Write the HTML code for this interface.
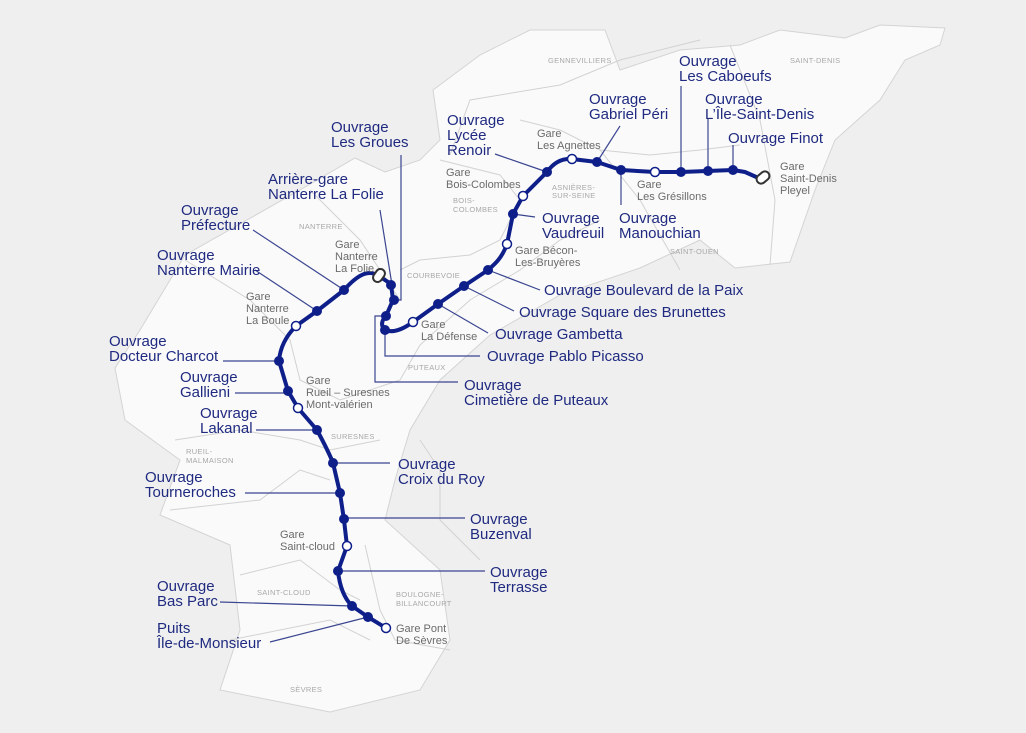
<!DOCTYPE html>
<html><head><meta charset="utf-8"><style>
html,body{margin:0;padding:0;background:#efefef;}
svg{display:block;}
.lb{font-family:"Liberation Sans",sans-serif;font-size:15px;fill:#1f2a80;}
.g{font-family:"Liberation Sans",sans-serif;font-size:11px;fill:#6b6b6b;}
.c{font-family:"Liberation Sans",sans-serif;font-size:7.5px;fill:#a8a8a8;letter-spacing:0.3px;}
.ld{stroke:#3a4590;stroke-width:1.2;fill:none;}
.b{stroke:#d2d2d2;stroke-width:1;fill:none;}
</style></head><body>
<svg width="1026" height="733" viewBox="0 0 1026 733" xmlns="http://www.w3.org/2000/svg">
<rect width="1026" height="733" fill="#efefef"/>
<polygon fill="#fafafa" stroke="#d4d4d4" stroke-width="1" points="433,90 480,55 530,30 605,30 620,70 680,50 740,45 780,30 845,38 880,25 945,28 940,45 905,60 880,100 835,140 815,190 790,262 735,268 700,240 640,268 560,295 490,335 440,380 410,430 395,480 385,520 440,570 450,640 420,690 330,712 220,690 240,630 230,545 160,515 180,460 125,420 115,368 140,330 185,255 300,190 355,158 385,172 420,160 440,140"/>
<polyline class="b" points="450,155 470,100 560,85 620,60 700,40"/>
<polyline class="b" points="520,120 560,130 600,150 640,200 680,270"/>
<polyline class="b" points="730,45 760,120 775,200 770,265"/>
<polyline class="b" points="600,150 650,155 700,150 740,145"/>
<polyline class="b" points="440,160 500,175 520,200 500,240 470,255 420,260 400,270"/>
<polyline class="b" points="420,345 470,300 520,270 560,240 600,220"/>
<polyline class="b" points="310,190 360,240 400,300"/>
<polyline class="b" points="185,260 250,300 290,340 300,380 340,400 400,380 420,345"/>
<polyline class="b" points="175,440 240,430 300,440 330,450 380,440"/>
<polyline class="b" points="170,510 260,500 300,470 330,480"/>
<polyline class="b" points="240,575 300,560 340,590 360,600"/>
<polyline class="b" points="365,545 380,610 395,640 450,650"/>
<polyline class="b" points="230,640 280,630 330,620 370,640"/>
<polyline class="b" points="480,560 440,520 440,470 420,440"/>
<text class="c" x="548" y="63">GENNEVILLIERS</text>
<text class="c" x="790" y="63">SAINT-DENIS</text>
<text class="c" x="670" y="254">SAINT-OUEN</text>
<text class="c" x="552" y="190">ASNIÈRES-</text>
<text class="c" x="552" y="198">SUR-SEINE</text>
<text class="c" x="453" y="203">BOIS-</text>
<text class="c" x="453" y="212">COLOMBES</text>
<text class="c" x="299" y="229">NANTERRE</text>
<text class="c" x="407" y="278">COURBEVOIE</text>
<text class="c" x="408" y="370">PUTEAUX</text>
<text class="c" x="331" y="439">SURESNES</text>
<text class="c" x="186" y="454">RUEIL-</text>
<text class="c" x="186" y="463">MALMAISON</text>
<text class="c" x="257" y="595">SAINT-CLOUD</text>
<text class="c" x="396" y="597">BOULOGNE-</text>
<text class="c" x="396" y="606">BILLANCOURT</text>
<text class="c" x="290" y="692">SÈVRES</text>
<g class="ld">
<line x1="681" y1="86" x2="681" y2="172"/>
<line x1="708" y1="118" x2="708" y2="171"/>
<line x1="733" y1="145" x2="733" y2="170"/>
<line x1="620" y1="126" x2="597" y2="162"/>
<line x1="621" y1="170" x2="621" y2="205"/>
<line x1="495" y1="154" x2="547" y2="172"/>
<line x1="513" y1="214" x2="535" y2="217"/>
<line x1="488" y1="270" x2="540" y2="290"/>
<line x1="464" y1="286" x2="514" y2="311"/>
<line x1="438" y1="304" x2="488" y2="333"/>
<polyline points="385,330 385,356 480,356"/>
<polyline points="386,316 375,316 375,382 458,382"/>
<polyline points="401,155 401,300 394,300"/>
<line x1="380" y1="210" x2="392" y2="285"/>
<line x1="253" y1="230" x2="344" y2="290"/>
<line x1="255" y1="270" x2="317" y2="311"/>
<line x1="223" y1="361" x2="279" y2="361"/>
<line x1="235" y1="393" x2="288" y2="393"/>
<line x1="256" y1="430" x2="317" y2="430"/>
<line x1="333" y1="463" x2="390" y2="463"/>
<line x1="245" y1="493" x2="340" y2="493"/>
<line x1="344" y1="518" x2="465" y2="518"/>
<line x1="338" y1="571" x2="485" y2="571"/>
<line x1="220" y1="602" x2="352" y2="606"/>
<line x1="270" y1="642" x2="368" y2="617"/>
</g>
<path d="M763,180 L745,172 L733,170 L681,172 L655,172 L621,170 L597,162 L572,159 C560,158 552,165 547,172 L523,196 L513,214 L507,244 C502,258 495,264 488,270 L464,286 L438,304 L413,322 C402,330 392,333 385,330 C380,325 382,320 386,316 L393,300 L391,284 L379,276 C370,270 360,272 344,290 L317,311 L296,326 C286,336 280,348 279,361 L288,391 L298,408 L317,430 C325,445 330,455 333,463 L340,493 L344,520 L347,546 L338,571 C340,590 346,600 352,606 L368,617 L386,628" fill="none" stroke="#0e1f8a" stroke-width="4" stroke-linejoin="round" stroke-linecap="round"/>
<g fill="#0e1f8a">
<circle cx="733" cy="170" r="5"/><circle cx="708" cy="171" r="5"/><circle cx="681" cy="172" r="5"/>
<circle cx="621" cy="170" r="5"/><circle cx="597" cy="162" r="5"/><circle cx="547" cy="172" r="5"/>
<circle cx="513" cy="214" r="5"/><circle cx="488" cy="270" r="5"/><circle cx="464" cy="286" r="5"/>
<circle cx="438" cy="304" r="5"/><circle cx="385" cy="330" r="5"/><circle cx="386" cy="316" r="5"/>
<circle cx="394" cy="300" r="5"/><circle cx="391" cy="285" r="5"/><circle cx="344" cy="290" r="5"/>
<circle cx="317" cy="311" r="5"/><circle cx="279" cy="361" r="5"/><circle cx="288" cy="391" r="5"/>
<circle cx="317" cy="430" r="5"/><circle cx="333" cy="463" r="5"/><circle cx="340" cy="493" r="5"/>
<circle cx="344" cy="519" r="5"/><circle cx="338" cy="571" r="5"/><circle cx="352" cy="606" r="5"/>
<circle cx="368" cy="617" r="5"/>
</g>
<g fill="#fff" stroke="#0e1f8a" stroke-width="1.5">
<circle cx="655" cy="172" r="4.5"/><circle cx="572" cy="159" r="4.5"/><circle cx="523" cy="196" r="4.5"/>
<circle cx="507" cy="244" r="4.5"/><circle cx="413" cy="322" r="4.5"/><circle cx="296" cy="326" r="4.5"/>
<circle cx="298" cy="408" r="4.5"/><circle cx="347" cy="546" r="4.5"/><circle cx="386" cy="628" r="4.5"/>
</g>
<g fill="#fff" stroke="#333" stroke-width="2">
<rect x="756" y="173" width="14" height="9" rx="4.5" transform="rotate(-40 763 177.5)"/>
<rect x="372" y="271" width="14" height="9" rx="4.5" transform="rotate(-55 379 275.5)"/>
</g>
<g class="g">
<text x="780" y="170">Gare</text><text x="780" y="182">Saint-Denis</text><text x="780" y="194">Pleyel</text>
<text x="637" y="188">Gare</text><text x="637" y="200">Les Grésillons</text>
<text x="537" y="137">Gare</text><text x="537" y="149">Les Agnettes</text>
<text x="446" y="176">Gare</text><text x="446" y="188">Bois-Colombes</text>
<text x="515" y="254">Gare Bécon-</text><text x="515" y="266">Les-Bruyères</text>
<text x="421" y="328">Gare</text><text x="421" y="340">La Défense</text>
<text x="335" y="248">Gare</text><text x="335" y="260">Nanterre</text><text x="335" y="272">La Folie</text>
<text x="246" y="300">Gare</text><text x="246" y="312">Nanterre</text><text x="246" y="324">La Boule</text>
<text x="306" y="384">Gare</text><text x="306" y="396">Rueil – Suresnes</text><text x="306" y="408">Mont-valérien</text>
<text x="280" y="538">Gare</text><text x="280" y="550">Saint-cloud</text>
<text x="396" y="632">Gare Pont</text><text x="396" y="644">De Sèvres</text>
</g>
<g class="lb">
<text x="679" y="66">Ouvrage</text><text x="679" y="81">Les Caboeufs</text>
<text x="705" y="104">Ouvrage</text><text x="705" y="119">L’Île-Saint-Denis</text>
<text x="728" y="143">Ouvrage Finot</text>
<text x="589" y="104">Ouvrage</text><text x="589" y="119">Gabriel Péri</text>
<text x="619" y="223">Ouvrage</text><text x="619" y="238">Manouchian</text>
<text x="447" y="125">Ouvrage</text><text x="447" y="140">Lycée</text><text x="447" y="155">Renoir</text>
<text x="542" y="223">Ouvrage</text><text x="542" y="238">Vaudreuil</text>
<text x="544" y="295">Ouvrage Boulevard de la Paix</text>
<text x="519" y="317">Ouvrage Square des Brunettes</text>
<text x="495" y="339">Ouvrage Gambetta</text>
<text x="487" y="361">Ouvrage Pablo Picasso</text>
<text x="464" y="390">Ouvrage</text><text x="464" y="405">Cimetière de Puteaux</text>
<text x="331" y="132">Ouvrage</text><text x="331" y="147">Les Groues</text>
<text x="268" y="184">Arrière-gare</text><text x="268" y="199">Nanterre La Folie</text>
<text x="181" y="215">Ouvrage</text><text x="181" y="230">Préfecture</text>
<text x="157" y="260">Ouvrage</text><text x="157" y="275">Nanterre Mairie</text>
<text x="109" y="346">Ouvrage</text><text x="109" y="361">Docteur Charcot</text>
<text x="180" y="382">Ouvrage</text><text x="180" y="397">Gallieni</text>
<text x="200" y="418">Ouvrage</text><text x="200" y="433">Lakanal</text>
<text x="398" y="469">Ouvrage</text><text x="398" y="484">Croix du Roy</text>
<text x="145" y="482">Ouvrage</text><text x="145" y="497">Tourneroches</text>
<text x="470" y="524">Ouvrage</text><text x="470" y="539">Buzenval</text>
<text x="490" y="577">Ouvrage</text><text x="490" y="592">Terrasse</text>
<text x="157" y="591">Ouvrage</text><text x="157" y="606">Bas Parc</text>
<text x="157" y="633">Puits</text><text x="157" y="648">Île-de-Monsieur</text>
</g>
</svg>
</body></html>
